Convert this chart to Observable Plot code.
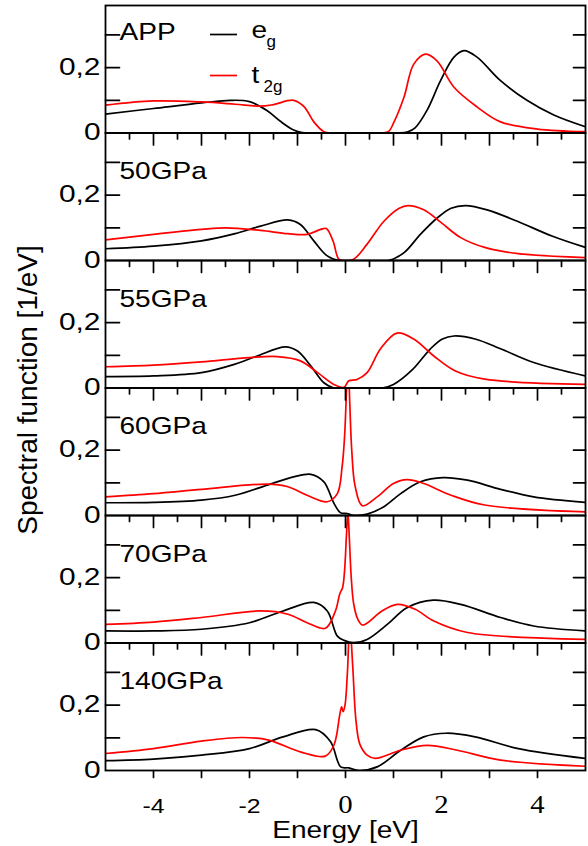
<!DOCTYPE html>
<html><head><meta charset="utf-8">
<script src="https://cdn.jsdelivr.net/npm/d3@7"></script>
<script src="https://cdn.jsdelivr.net/npm/@observablehq/plot@0.6"></script>
<style>body{margin:0;background:#fff;}#chart{width:588px;height:846px;}</style>
</head><body><div id="chart"></div>
<script>
// ---------- data ----------
const panels = ["APP", "50GPa", "55GPa", "60GPa", "70GPa", "140GPa"];
const orbitals = ["eg", "t2g"];
const orbitalColors = ["black", "#ff0000"];
const legendMain = ["e", "t"];
const legendSub = ["g", "2g"];
const xDomain = [-5, 5];
const yDomain = [0, 0.39];
const yLabelTicks = [0, 0.2];
const yTickLabels = ["0", "0,2"];
const yTicks = [0.1, 0.2, 0.3];
const xMajorTicks = [-4, -3, -2, -1, 0, 1, 2, 3, 4];
const xMinorTicks = [-4.5, -3.5, -2.5, -1.5, -0.5, 0.5, 1.5, 2.5, 3.5, 4.5];
const xLabelTicks = [-4, -2, 0, 2, 4];
const xTickLabels = ["-4", "-2", "0", "2", "4"];

// [energy eV, spectral function 1/eV]
const app_eg = [[-5,0.058],[-4,0.075],[-3,0.092],[-2.4,0.100],[-2.0,0.096],[-1.63,0.068],[-1.35,0.035],[-1.08,0.009],[-0.9,0.001],[-0.6,0],[1.1,0],[1.3,0.004],[1.45,0.016],[1.7,0.07],[1.98,0.16],[2.26,0.232],[2.47,0.252],[2.74,0.232],[3.23,0.16],[3.78,0.10],[4.34,0.055],[5,0.019]];
const app_t2g = [[-5,0.085],[-4,0.098],[-3,0.095],[-2.3,0.088],[-1.77,0.082],[-1.5,0.087],[-1.08,0.100],[-0.86,0.08],[-0.66,0.034],[-0.45,0.004],[-0.3,0],[0.75,0],[0.9,0.005],[1.0,0.03],[1.22,0.11],[1.42,0.21],[1.67,0.241],[1.91,0.22],[2.26,0.14],[2.74,0.08],[3.23,0.034],[4.0,0.012],[5,0.004]];
const p50_eg = [[-5,0.036],[-4,0.044],[-3,0.06],[-2.3,0.082],[-1.77,0.105],[-1.2,0.124],[-0.94,0.11],[-0.66,0.06],[-0.38,0.014],[-0.14,0],[0.9,0],[1.22,0.024],[1.56,0.08],[1.91,0.13],[2.2,0.16],[2.5,0.168],[2.95,0.155],[3.58,0.12],[4.3,0.075],[5,0.04]];
const p50_t2g = [[-5,0.063],[-4,0.08],[-3,0.095],[-2.5,0.10],[-1.77,0.092],[-1.2,0.082],[-0.8,0.08],[-0.52,0.095],[-0.4,0.098],[-0.26,0.06],[-0.14,0.004],[-0.03,0],[0.17,0.004],[0.45,0.05],[0.8,0.12],[1.12,0.16],[1.3,0.168],[1.63,0.155],[2.0,0.115],[2.4,0.07],[2.9,0.04],[3.6,0.021],[5,0.009]];
const p55_eg = [[-5,0.035],[-4,0.037],[-3,0.047],[-2.3,0.073],[-1.84,0.098],[-1.25,0.126],[-1.0,0.113],[-0.72,0.067],[-0.45,0.016],[-0.24,0],[0.76,0],[1.0,0.011],[1.4,0.057],[1.77,0.12],[2.02,0.15],[2.26,0.159],[2.7,0.15],[3.23,0.12],[3.92,0.078],[5,0.037]];
const p55_t2g = [[-5,0.065],[-4,0.07],[-3,0.08],[-2.0,0.093],[-1.42,0.096],[-0.94,0.083],[-0.58,0.047],[-0.24,0.011],[-0.035,0.002],[0.07,0.022],[0.24,0.026],[0.45,0.047],[0.73,0.12],[1.07,0.168],[1.42,0.15],[1.84,0.098],[2.29,0.052],[2.9,0.027],[5,0.011]];
const p60_eg = [[-5,0.039],[-4,0.04],[-3,0.047],[-2.3,0.062],[-1.63,0.093],[-1.08,0.118],[-0.72,0.126],[-0.45,0.103],[-0.24,0.037],[-0.1,0.008],[0.03,0.006],[0.17,0],[0.45,0.004],[0.8,0.027],[1.15,0.067],[1.56,0.103],[2.03,0.116],[2.54,0.108],[3.23,0.08],[3.92,0.057],[5,0.04]];
const p60_t2g = [[-5,0.057],[-4,0.067],[-3,0.08],[-1.63,0.096],[-1.2,0.088],[-0.8,0.062],[-0.38,0.042],[-0.17,0.067],[-0.07,0.15],[-0.02,0.24],[0.02,0.38],[0.05,0.5],[0.09,0.34],[0.13,0.2],[0.2,0.09],[0.35,0.03],[0.66,0.057],[1.0,0.098],[1.28,0.11],[1.63,0.098],[2.2,0.062],[2.9,0.032],[5,0.011]];
const p70_eg = [[-5,0.037],[-4,0.037],[-3,0.042],[-2.0,0.062],[-1.3,0.098],[-0.66,0.124],[-0.38,0.098],[-0.17,0.021],[-0.03,0.008],[0.17,0.001],[0.45,0.011],[0.87,0.057],[1.28,0.108],[1.83,0.131],[2.4,0.118],[3.23,0.078],[3.92,0.052],[5,0.037]];
const p70_t2g = [[-5,0.057],[-4,0.064],[-3,0.078],[-1.77,0.098],[-1.2,0.088],[-0.8,0.062],[-0.42,0.045],[-0.21,0.098],[-0.12,0.15],[-0.06,0.17],[-0.02,0.22],[0.02,0.33],[0.05,0.40],[0.08,0.32],[0.12,0.2],[0.17,0.12],[0.25,0.075],[0.36,0.055],[0.76,0.098],[1.08,0.118],[1.45,0.103],[1.84,0.067],[2.54,0.032],[5,0.011]];
const p140_eg = [[-5,0.03],[-4,0.035],[-3,0.047],[-2.0,0.067],[-1.3,0.103],[-0.62,0.125],[-0.31,0.088],[-0.1,0.011],[0.07,0.008],[0.28,0],[0.66,0.011],[1.15,0.062],[1.63,0.103],[2.1,0.114],[2.7,0.103],[3.6,0.067],[5,0.037]];
const p140_t2g = [[-5,0.052],[-4,0.067],[-3,0.09],[-2.15,0.101],[-1.6,0.093],[-0.94,0.057],[-0.42,0.044],[-0.24,0.078],[-0.12,0.17],[-0.08,0.195],[-0.05,0.18],[-0.01,0.2],[0.04,0.30],[0.09,0.45],[0.15,0.32],[0.22,0.15],[0.3,0.08],[0.45,0.047],[0.62,0.037],[1.15,0.062],[1.7,0.077],[2.33,0.062],[3.23,0.032],[5,0.013]];

const egSeries = [app_eg, p50_eg, p55_eg, p60_eg, p70_eg, p140_eg];
const t2gSeries = [app_t2g, p50_t2g, p55_t2g, p60_t2g, p70_t2g, p140_t2g];
const toRows = (list, orb) => list.flatMap((pts, k) => pts.map(([E, A]) => ({panel: panels[k], orb, E, A})));
const rows = [...toRows(egSeries, orbitals[0]), ...toRows(t2gSeries, orbitals[1])];

// ---------- layout ----------
const W = 588, H = 846, ML = 105, MR = 3, MT = 5, MB = 76;
const plotW = W - ML - MR;
const panelH = (H - MT - MB) / panels.length;
const innerPanels = panels.slice(1);
const lastPanel = panels[panels.length - 1];
const SANS = "'Liberation Sans', Arial, sans-serif";
const SERIF = "'Liberation Serif', 'Times New Roman', serif";

// tick segments (tick lengths are pixel styles, converted to data units per pixel)
const dxPx = (xDomain[1] - xDomain[0]) / plotW;
const dyPx = (yDomain[1] - yDomain[0]) / panelH;
const segs = [];
let sid = 0;
const addSeg = (p, x1, y1, x2, y2) => { sid++; segs.push({p, id: sid, x: x1, y: y1}, {p, id: sid, x: x2, y: y2}); };
panels.forEach(p => yTicks.forEach(v => {
  addSeg(p, xDomain[0], v, xDomain[0] + 14 * dxPx, v);
  addSeg(p, xDomain[1] - 12 * dxPx, v, xDomain[1], v);
}));
innerPanels.forEach(p => {
  xMajorTicks.forEach(v => addSeg(p, v, yDomain[1], v, yDomain[1] - 12 * dyPx));
  xMinorTicks.forEach(v => addSeg(p, v, yDomain[1], v, yDomain[1] - 6 * dyPx));
});
xMajorTicks.forEach(v => addSeg(lastPanel, v, yDomain[0], v, yDomain[0] - 7 * dyPx));

const chart = Plot.plot({
  width: W, height: H,
  marginLeft: ML, marginRight: MR, marginTop: MT, marginBottom: MB,
  style: {fontFamily: SANS, color: "black", background: "white"},
  x: {domain: xDomain, axis: null},
  y: {domain: yDomain, axis: null},
  fy: {domain: panels, padding: 0, round: false, axis: null, label: null},
  color: {domain: orbitals, range: orbitalColors},
  marks: [
    Plot.line(rows, {x: "E", y: "A", fy: "panel", z: "orb", stroke: "orb", strokeWidth: 1.7, curve: "catmull-rom", clip: true}),
    Plot.frame({stroke: "black", strokeWidth: 1.8}),
    // ticks as short line segments
    Plot.line(segs, {x: "x", y: "y", fy: "p", z: "id", stroke: "black", strokeWidth: 1.7}),
    // y tick labels
    Plot.text(yLabelTicks, {y: d => d, text: (d, i) => yTickLabels[i], frameAnchor: "left", dx: -5, textAnchor: "end", lineAnchor: "middle", fontSize: 23}),
    // x tick labels
    Plot.text(xLabelTicks.filter(v => v < 0), {x: d => d, fy: () => lastPanel, text: d => xTickLabels[xLabelTicks.indexOf(d)], frameAnchor: "bottom", dy: 42, lineAnchor: "bottom", fontSize: 21}),
    Plot.text(xLabelTicks.filter(v => v >= 0), {x: d => d, fy: () => lastPanel, text: d => xTickLabels[xLabelTicks.indexOf(d)], frameAnchor: "bottom", dy: 42, lineAnchor: "bottom", fontSize: 25, fontFamily: SERIF}),
    // panel labels
    Plot.text(panels.slice(0, 1), {fy: d => d, text: d => d, frameAnchor: "top-left", dx: 14, dy: 34, textAnchor: "start", lineAnchor: "bottom", fontSize: 24}),
    Plot.text(innerPanels, {fy: d => d, text: d => d, frameAnchor: "top-left", dx: 14, dy: 46, textAnchor: "start", lineAnchor: "bottom", fontSize: 24}),
    // legend (first panel)
    Plot.ruleY([0], {fy: () => panels[0], dy: 29 - panelH, insetLeft: 105, insetRight: plotW - 132, stroke: orbitalColors[0], strokeWidth: 1.7}),
    Plot.ruleY([0], {fy: () => panels[0], dy: 70 - panelH, insetLeft: 105, insetRight: plotW - 132, stroke: orbitalColors[1], strokeWidth: 1.7}),
    Plot.text([legendMain[0]], {fy: () => panels[0], text: d => d, frameAnchor: "top-left", dx: 146, dy: 32, textAnchor: "start", lineAnchor: "bottom", fontSize: 24}),
    Plot.text([legendSub[0]], {fy: () => panels[0], text: d => d, frameAnchor: "top-left", dx: 161, dy: 41, textAnchor: "start", lineAnchor: "bottom", fontSize: 17}),
    Plot.text([legendMain[1]], {fy: () => panels[0], text: d => d, frameAnchor: "top-left", dx: 146, dy: 77, textAnchor: "start", lineAnchor: "bottom", fontSize: 24}),
    Plot.text([legendSub[1]], {fy: () => panels[0], text: d => d, frameAnchor: "top-left", dx: 158, dy: 86, textAnchor: "start", lineAnchor: "bottom", fontSize: 17}),
    // axis titles
    Plot.text(["Spectral function [1/eV]"], {fy: () => panels[2], text: d => d, frameAnchor: "bottom-left", dx: -77, dy: 2, rotate: -90, textAnchor: "middle", lineAnchor: "middle", fontSize: 28}),
    Plot.text(["Energy [eV]"], {fy: () => lastPanel, text: d => d, frameAnchor: "bottom", dy: 67, lineAnchor: "bottom", fontSize: 24})
  ]
});

// horizontal glyph stretch to match the reference typography
const stretch = {"23": 1.3, "21": 1.18, "25": 1.15, "24": 1.17};
chart.querySelectorAll("text").forEach(t => {
  const g = t.closest("[font-size]");
  if (!g) return;
  const s = stretch[String(parseFloat(g.getAttribute("font-size")))];
  if (!s) return;
  const tr = t.getAttribute("transform") || "";
  if (tr.includes("rotate")) return;
  const x = +t.getAttribute("x") || 0, y = +t.getAttribute("y") || 0;
  t.setAttribute("transform", `${tr} translate(${x},${y}) scale(${s},1) translate(${-x},${-y})`);
});
document.getElementById("chart").append(chart);
</script>
</body></html>
